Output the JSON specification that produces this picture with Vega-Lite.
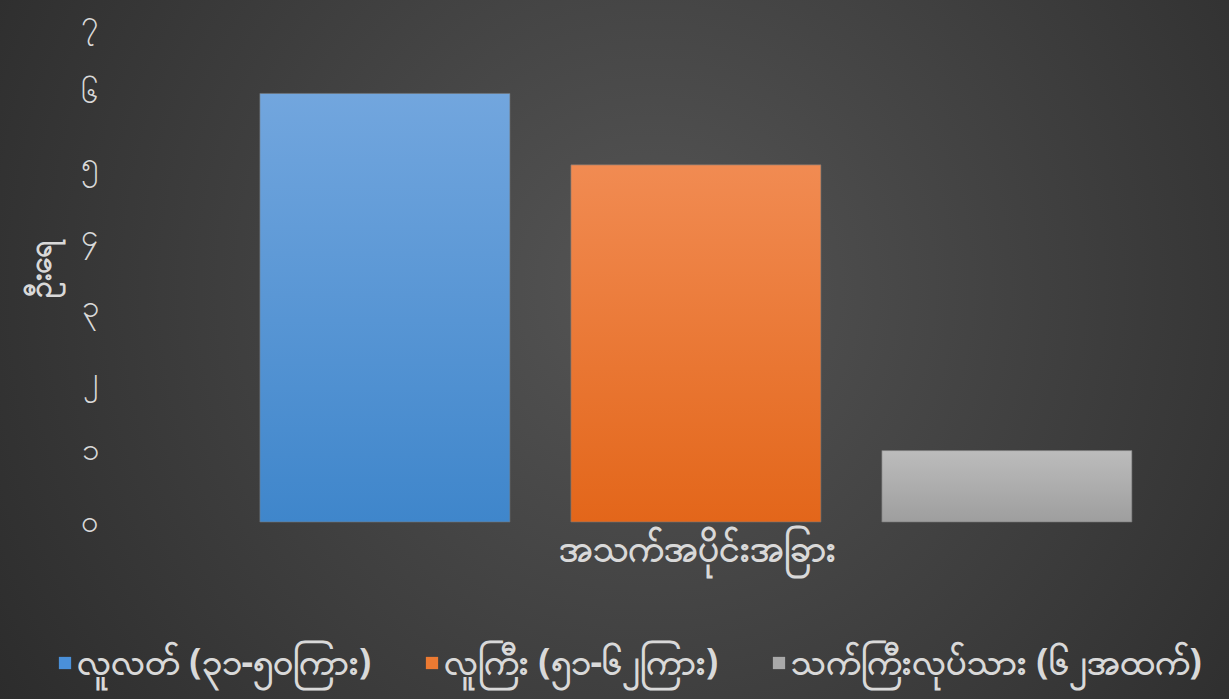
{
  "$schema": "https://vega.github.io/schema/vega-lite/v6.json",
  "width": 1229,
  "height": 699,
  "autosize": {"type": "none"},
  "padding": 0,
  "background": "#2a2a2a",
  "config": {
    "view": {
      "stroke": null,
      "fill": {
        "gradient": "radial",
        "x1": 0.53, "y1": 0.45, "r1": 0,
        "x2": 0.53, "y2": 0.45, "r2": 0.75,
        "stops": [
          {"offset": 0, "color": "#555555"},
          {"offset": 1, "color": "#242424"}
        ]
      }
    },
    "font": "Noto Sans"
  },
  "data": {
    "values": [
      {"category": "အသက်အပိုင်းအခြား", "group": "လူလတ် (၃၁-၅၀ကြား)", "value": 6},
      {"category": "အသက်အပိုင်းအခြား", "group": "လူကြီး (၅၁-၆၂ကြား)", "value": 5},
      {"category": "အသက်အပိုင်းအခြား", "group": "သက်ကြီးလုပ်သား (၆၂အထက်)", "value": 1}
    ]
  },
  "mark": {"type": "bar", "strokeWidth": 1, "stroke": "#777777", "strokeOpacity": 0.6},
  "encoding": {
    "x": {
      "field": "category",
      "type": "nominal",
      "scale": {"paddingInner": 0, "paddingOuter": 0},
      "axis": {
        "title": null,
        "orient": "bottom",
        "offset": -168,
        "labelPadding": 0,
        "labelOffset": 83,
        "ticks": false,
        "domain": false,
        "labelAngle": 0,
        "labelFontSize": 37,
        "labelFontWeight": "bold",
        "labelColor": "#d9d9d9",
        "labelBaseline": "top",
        "labelLimit": 600
      }
    },
    "xOffset": {
      "field": "group",
      "type": "nominal",
      "sort": ["လူလတ် (၃၁-၅၀ကြား)", "လူကြီး (၅၁-၆၂ကြား)", "သက်ကြီးလုပ်သား (၆၂အထက်)"],
      "scale": {"paddingInner": 0.196, "paddingOuter": 0.574, "align": 0.728}
    },
    "y": {
      "field": "value",
      "type": "quantitative",
      "scale": {"domain": [-2.478, 7.308], "nice": false, "zero": false},
      "axis": {
        "title": "ဦးရေ",
        "titleFontSize": 30,
        "titleFontWeight": "bold",
        "titleColor": "#d9d9d9",
        "titleY": 268,
        "titlePadding": 24,
        "values": [0, 1, 2, 3, 4, 5, 6, 7],
        "labelExpr": "['၀','၁','၂','၃','၄','၅','၆','၇'][datum.value]",
        "offset": -98,
        "labelPadding": 0,
        "ticks": false,
        "domain": false,
        "grid": false,
        "labelFontSize": 31,
        "labelColor": "#d9d9d9"
      }
    },
    "color": {
      "field": "group",
      "type": "nominal",
      "sort": ["လူလတ် (၃၁-၅၀ကြား)", "လူကြီး (၅၁-၆၂ကြား)", "သက်ကြီးလုပ်သား (၆၂အထက်)"],
      "scale": {"range": ["#4a90d9", "#ec7a32", "#a9a9a9"]},
      "condition": [
        {"test": "datum.group === 'လူလတ် (၃၁-၅၀ကြား)'", "value": {"gradient": "linear", "x1": 0, "y1": 0, "x2": 0, "y2": 1, "stops": [{"offset": 0, "color": "#72a6de"}, {"offset": 1, "color": "#3f86cb"}]}},
        {"test": "datum.group === 'လူကြီး (၅၁-၆၂ကြား)'", "value": {"gradient": "linear", "x1": 0, "y1": 0, "x2": 0, "y2": 1, "stops": [{"offset": 0, "color": "#f18b52"}, {"offset": 1, "color": "#e3661a"}]}},
        {"test": "datum.group === 'သက်ကြီးလုပ်သား (၆၂အထက်)'", "value": {"gradient": "linear", "x1": 0, "y1": 0, "x2": 0, "y2": 1, "stops": [{"offset": 0, "color": "#bcbcbc"}, {"offset": 1, "color": "#9e9e9e"}]}}
      ],
      "legend": {
        "title": null,
        "orient": "none",
        "direction": "horizontal",
        "legendX": 47,
        "legendY": 645,
        "symbolType": "square",
        "symbolSize": 150,
        "symbolStrokeWidth": 0,
        "labelFontSize": 36,
        "labelFontWeight": "bold",
        "labelColor": "#d9d9d9",
        "labelOffset": -6,
        "columnPadding": 42,
        "labelLimit": 600
      }
    }
  }
}
